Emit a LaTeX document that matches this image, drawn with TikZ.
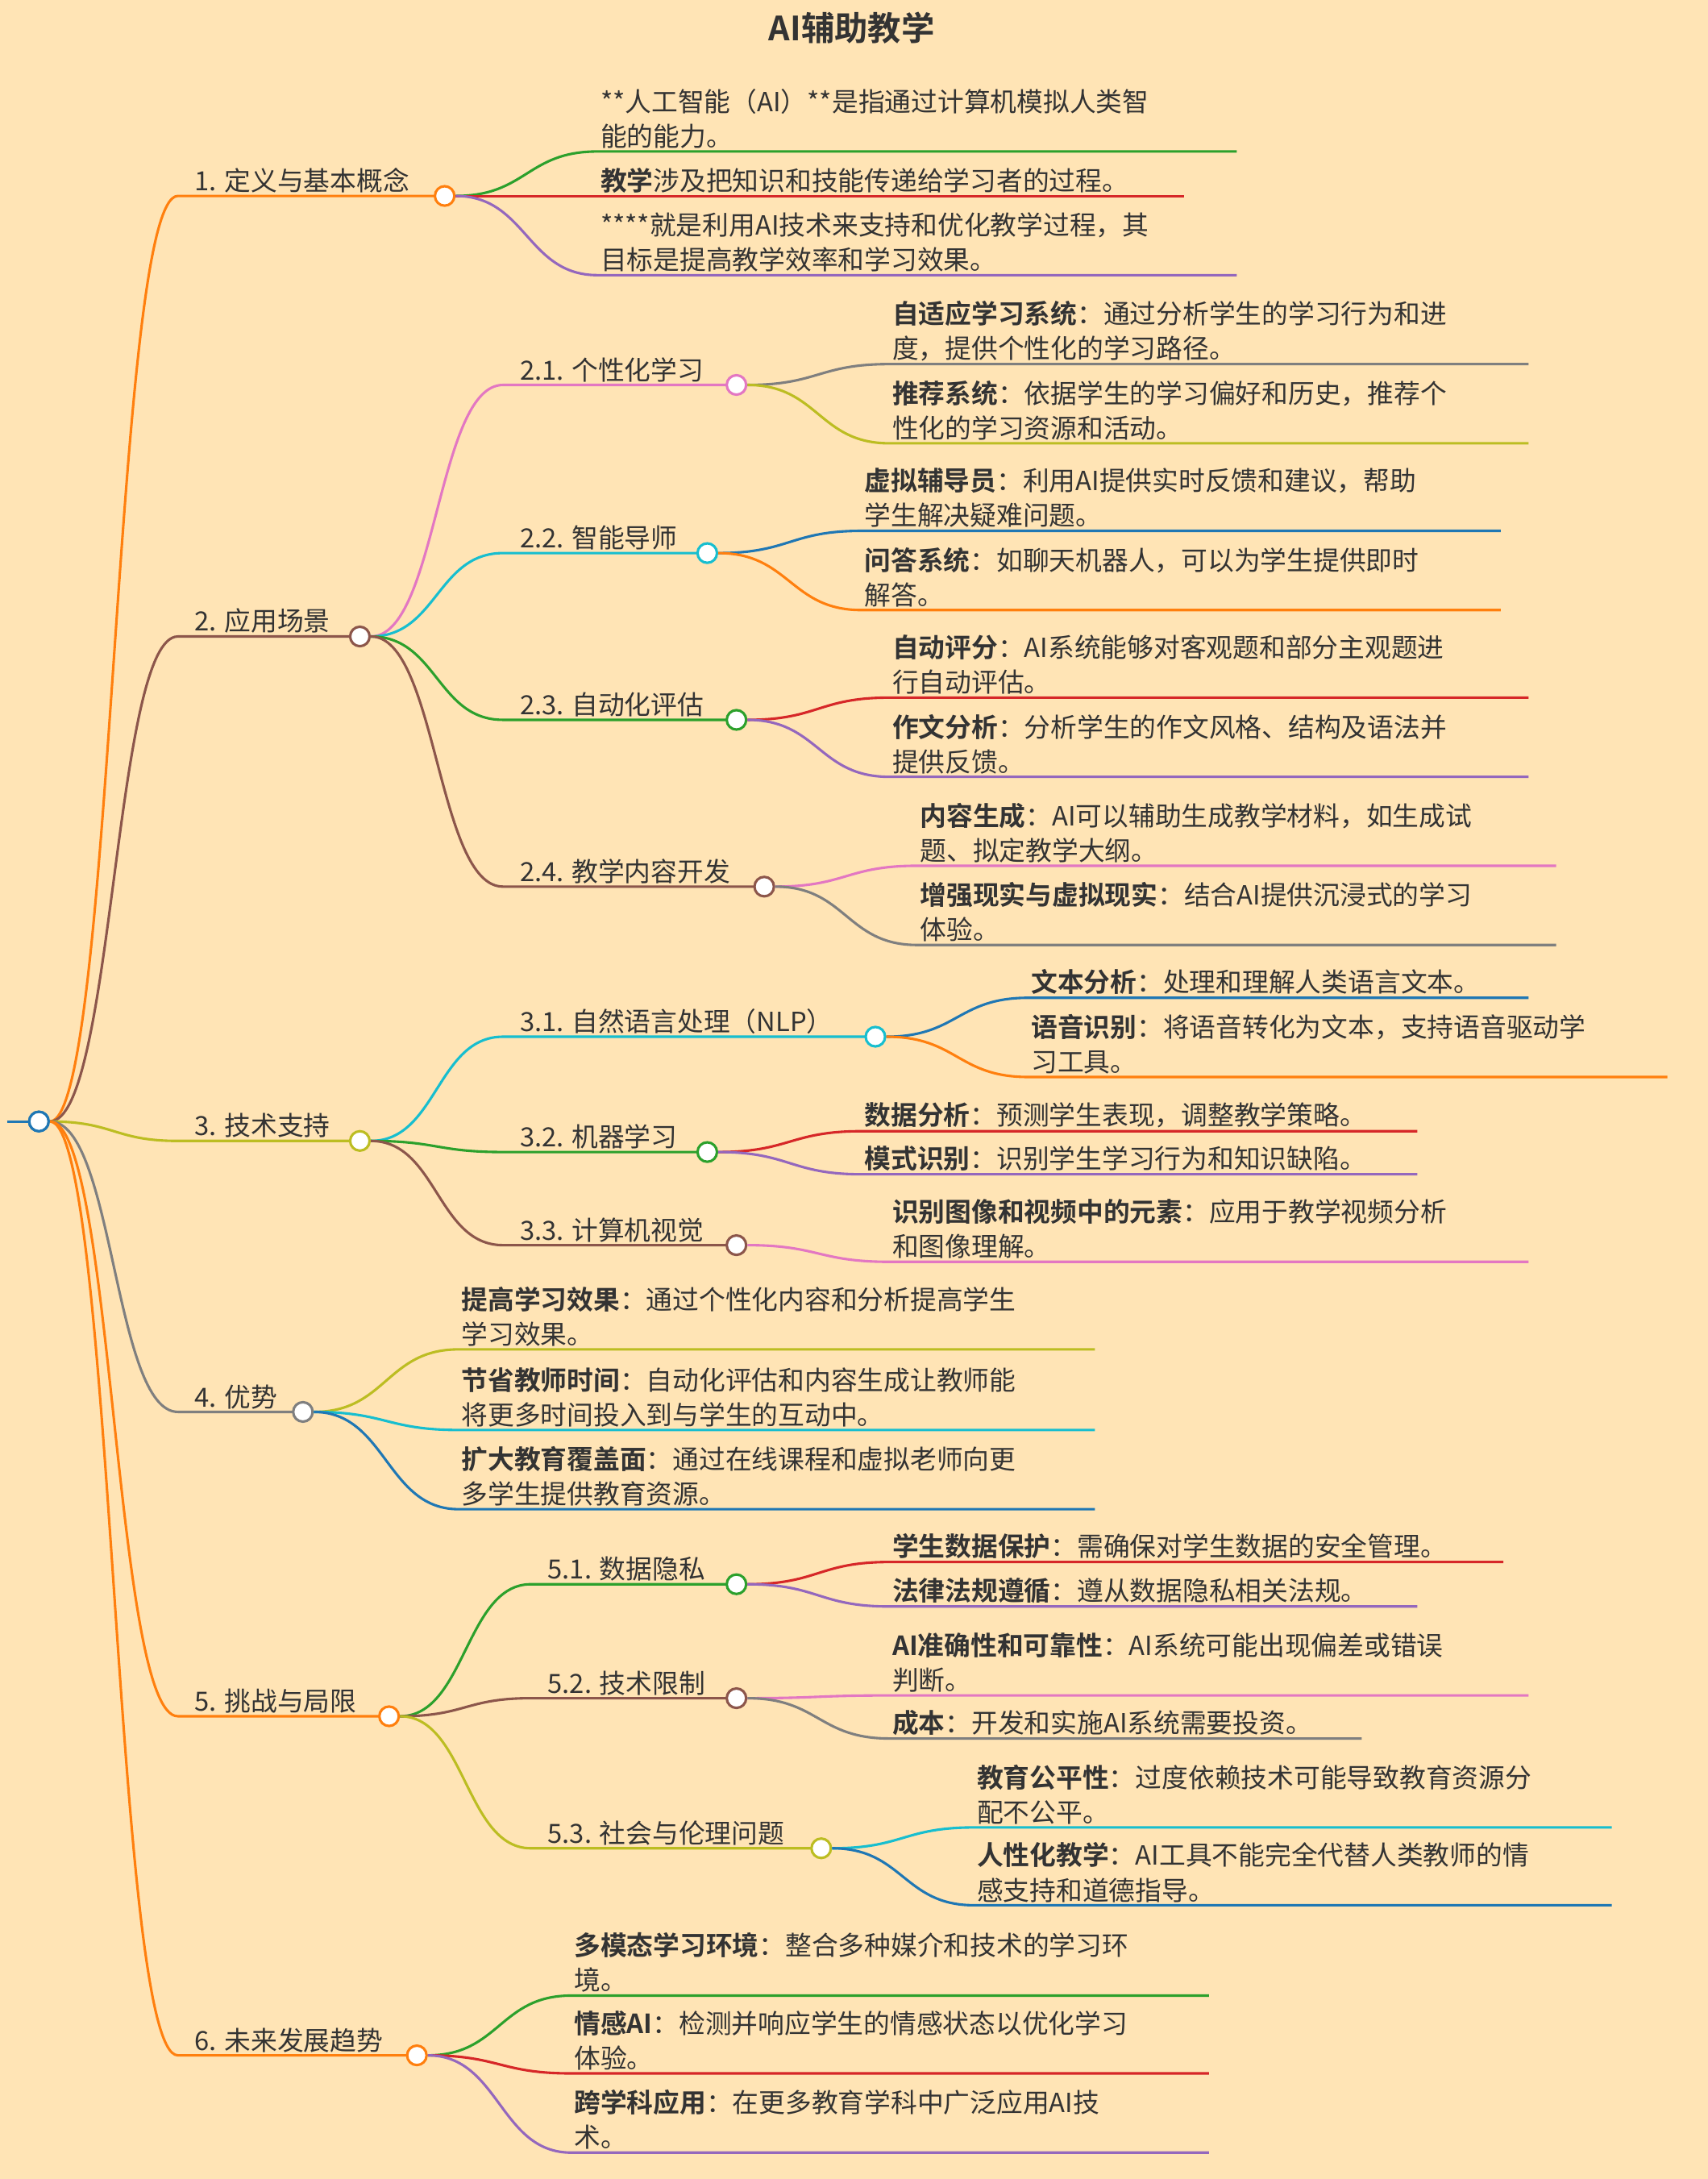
\documentclass[tikz,border=0pt]{standalone}
\usepackage{fontspec}
\setmainfont{Noto Sans CJK SC}[BoldFont={Noto Sans CJK SC Bold}]
\usetikzlibrary{calc}
\definecolor{bg}{HTML}{FFE4B5}
\definecolor{cOr}{HTML}{FF7F0E}
\definecolor{cBr}{HTML}{8C564B}
\definecolor{cOl}{HTML}{BCBD22}
\definecolor{cGy}{HTML}{7F7F7F}
\definecolor{cPk}{HTML}{E377C2}
\definecolor{cCy}{HTML}{17BECF}
\definecolor{cGn}{HTML}{2CA02C}
\definecolor{cRd}{HTML}{D62728}
\definecolor{cPu}{HTML}{9467BD}
\definecolor{cBl}{HTML}{1F77B4}
\definecolor{txt}{HTML}{333333}
\tikzset{
 conn/.style={line width=1.8pt},
 dot/.style={circle,minimum size=14pt,inner sep=0pt,line width=1.8pt,fill=white},
 lbl/.style={anchor=south west,inner sep=2pt,align=left,text=txt,font=\fontsize{19}{25}\selectfont},
}
% name, parent, xstart, y, xend, color, text
\newcommand\mmleaf[7]{%
 \coordinate (#1s) at (#3,#4);
 \coordinate (#1e) at (#5,#4);
 \coordinate (#1m) at ($(#2)!.5!(#1s)$);
 \draw[conn,#6] (#2) .. controls (#1m |- #2) and (#1m |- #1s) .. (#1s) -- (#1e);
 \node[lbl] (#1) at (#3,#4) {#7};}
% name, parent, xstart, y, xcircle, color, text
\newcommand\mmmid[7]{%
 \coordinate (#1s) at (#3,#4);
 \coordinate (#1m) at ($(#2)!.5!(#1s)$);
 \draw[conn,#6] (#2) .. controls (#1m |- #2) and (#1m |- #1s) .. (#1s) -- (#5,#4);
 \node[lbl] (#1) at (#3+10,#4) {#7};
 \node[dot,draw=#6] (#1c) at (#5,#4) {};}
\begin{document}
\begin{tikzpicture}[x=1pt,y=-1pt]
\fill[bg] (0,0) rectangle (1229,1568);
\useasboundingbox (0,0) rectangle (1229,1568);
\node[font=\bfseries\fontsize{24}{28}\selectfont,text=txt] (title) at (613,20) {AI辅助教学};
\coordinate (r0) at (5,807);
\draw[conn,cBl] (r0) -- (28,807);
\node[dot,draw=cBl] (root) at (28,807) {};
% 1
\mmmid{n1}{root.east}{128}{141}{320}{cOr}{1. 定义与基本概念}
\mmleaf{l11}{n1c.east}{430}{109}{890}{cGn}{**人工智能（AI）**是指通过计算机模拟人类智\\能的能力。}
\mmleaf{l12}{n1c.east}{430}{141}{852}{cRd}{\textbf{教学}涉及把知识和技能传递给学习者的过程。}
\mmleaf{l13}{n1c.east}{430}{198}{890}{cPu}{****就是利用AI技术来支持和优化教学过程，其\\目标是提高教学效率和学习效果。}
% 2
\mmmid{n2}{root.east}{128}{458}{259}{cBr}{2. 应用场景}
\mmmid{n21}{n2c.east}{362}{277}{530}{cPk}{2.1. 个性化学习}
\mmleaf{l211}{n21c.east}{640}{262}{1100}{cGy}{\textbf{自适应学习系统}：通过分析学生的学习行为和进\\度，提供个性化的学习路径。}
\mmleaf{l212}{n21c.east}{640}{319}{1100}{cOl}{\textbf{推荐系统}：依据学生的学习偏好和历史，推荐个\\性化的学习资源和活动。}
\mmmid{n22}{n2c.east}{362}{398}{509}{cCy}{2.2. 智能导师}
\mmleaf{l221}{n22c.east}{620}{382}{1080}{cBl}{\textbf{虚拟辅导员}：利用AI提供实时反馈和建议，帮助\\学生解决疑难问题。}
\mmleaf{l222}{n22c.east}{620}{439}{1080}{cOr}{\textbf{问答系统}：如聊天机器人，可以为学生提供即时\\解答。}
\mmmid{n23}{n2c.east}{362}{518}{530}{cGn}{2.3. 自动化评估}
\mmleaf{l231}{n23c.east}{640}{502}{1100}{cRd}{\textbf{自动评分}：AI系统能够对客观题和部分主观题进\\行自动评估。}
\mmleaf{l232}{n23c.east}{640}{559}{1100}{cPu}{\textbf{作文分析}：分析学生的作文风格、结构及语法并\\提供反馈。}
\mmmid{n24}{n2c.east}{362}{638}{550}{cBr}{2.4. 教学内容开发}
\mmleaf{l241}{n24c.east}{660}{623}{1120}{cPk}{\textbf{内容生成}：AI可以辅助生成教学材料，如生成试\\题、拟定教学大纲。}
\mmleaf{l242}{n24c.east}{660}{680}{1120}{cGy}{\textbf{增强现实与虚拟现实}：结合AI提供沉浸式的学习\\体验。}
% 3
\mmmid{n3}{root.east}{128}{821}{259}{cOl}{3. 技术支持}
\mmmid{n31}{n3c.east}{362}{746}{630}{cCy}{3.1. 自然语言处理（NLP）}
\mmleaf{l311}{n31c.east}{740}{718}{1100}{cBl}{\textbf{文本分析}：处理和理解人类语言文本。}
\mmleaf{l312}{n31c.east}{740}{775}{1200}{cOr}{\textbf{语音识别}：将语音转化为文本，支持语音驱动学\\习工具。}
\mmmid{n32}{n3c.east}{362}{829}{509}{cGn}{3.2. 机器学习}
\mmleaf{l321}{n32c.east}{620}{814}{1020}{cRd}{\textbf{数据分析}：预测学生表现，调整教学策略。}
\mmleaf{l322}{n32c.east}{620}{845}{1020}{cPu}{\textbf{模式识别}：识别学生学习行为和知识缺陷。}
\mmmid{n33}{n3c.east}{362}{896}{530}{cBr}{3.3. 计算机视觉}
\mmleaf{l331}{n33c.east}{640}{908}{1100}{cPk}{\textbf{识别图像和视频中的元素}：应用于教学视频分析\\和图像理解。}
% 4
\mmmid{n4}{root.east}{128}{1016}{218}{cGy}{4. 优势}
\mmleaf{l41}{n4c.east}{330}{971}{788}{cOl}{\textbf{提高学习效果}：通过个性化内容和分析提高学生\\学习效果。}
\mmleaf{l42}{n4c.east}{330}{1029}{788}{cCy}{\textbf{节省教师时间}：自动化评估和内容生成让教师能\\将更多时间投入到与学生的互动中。}
\mmleaf{l43}{n4c.east}{330}{1086}{788}{cBl}{\textbf{扩大教育覆盖面}：通过在线课程和虚拟老师向更\\多学生提供教育资源。}
% 5
\mmmid{n5}{root.east}{128}{1235}{280}{cOr}{5. 挑战与局限}
\mmmid{n51}{n5c.east}{382}{1140}{530}{cGn}{5.1. 数据隐私}
\mmleaf{l511}{n51c.east}{640}{1124}{1082}{cRd}{\textbf{学生数据保护}：需确保对学生数据的安全管理。}
\mmleaf{l512}{n51c.east}{640}{1156}{1020}{cPu}{\textbf{法律法规遵循}：遵从数据隐私相关法规。}
\mmmid{n52}{n5c.east}{382}{1222}{530}{cBr}{5.2. 技术限制}
\mmleaf{l521}{n52c.east}{640}{1220}{1100}{cPk}{\textbf{AI准确性和可靠性}：AI系统可能出现偏差或错误\\判断。}
\mmleaf{l522}{n52c.east}{640}{1251}{980}{cGy}{\textbf{成本}：开发和实施AI系统需要投资。}
\mmmid{n53}{n5c.east}{382}{1330}{591}{cOl}{5.3. 社会与伦理问题}
\mmleaf{l531}{n53c.east}{701}{1315}{1160}{cCy}{\textbf{教育公平性}：过度依赖技术可能导致教育资源分\\配不公平。}
\mmleaf{l532}{n53c.east}{701}{1371}{1160}{cBl}{\textbf{人性化教学}：AI工具不能完全代替人类教师的情\\感支持和道德指导。}
% 6
\mmmid{n6}{root.east}{128}{1479}{300}{cOr}{6. 未来发展趋势}
\mmleaf{l61}{n6c.east}{411}{1436}{870}{cGn}{\textbf{多模态学习环境}：整合多种媒介和技术的学习环\\境。}
\mmleaf{l62}{n6c.east}{411}{1492}{870}{cRd}{\textbf{情感AI}：检测并响应学生的情感状态以优化学习\\体验。}
\mmleaf{l63}{n6c.east}{411}{1549}{870}{cPu}{\textbf{跨学科应用}：在更多教育学科中广泛应用AI技\\术。}
\node[dot,draw=cBl] at (28,807) {};
\end{tikzpicture}
\end{document}
